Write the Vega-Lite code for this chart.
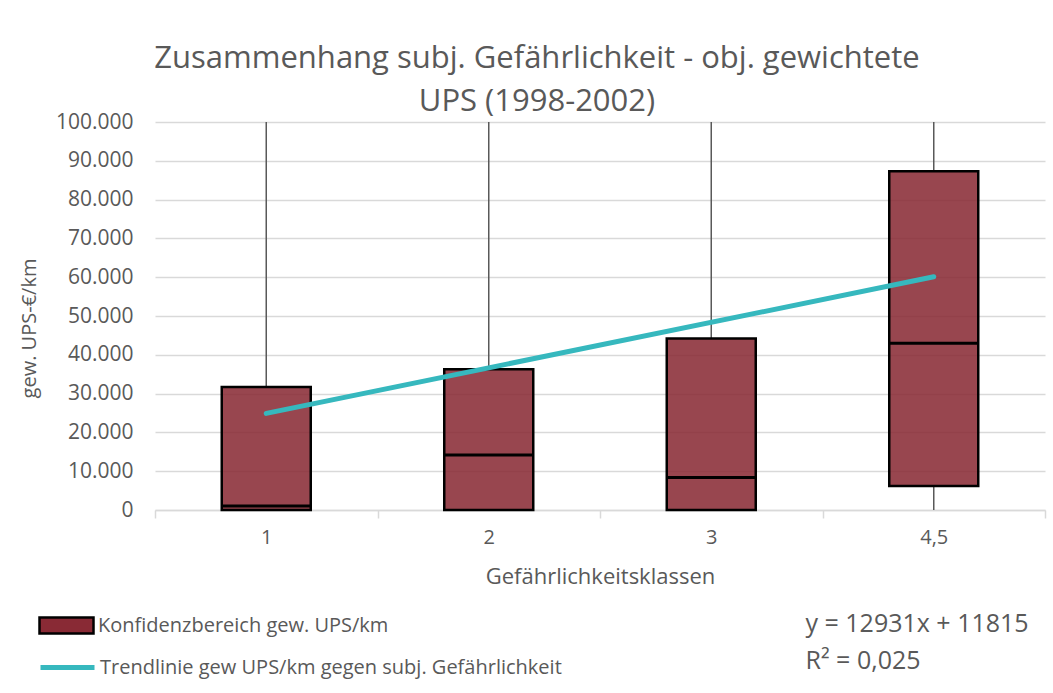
{
  "$schema": "https://vega.github.io/schema/vega-lite/v6.json",
  "width": 890,
  "height": 388,
  "autosize": {"type": "none"},
  "padding": {"left": 155, "top": 122, "right": 8, "bottom": 183},
  "background": "white",
  "title": {
    "text": ["Zusammenhang subj. Gefährlichkeit - obj. gewichtete", "UPS (1998-2002)"],
    "fontSize": 31,
    "fontWeight": "normal",
    "font": "Open Sans",
    "color": "#595959",
    "anchor": "middle",
    "frame": "group",
    "dx": -63,
    "offset": -7,
    "lineHeight": 43
  },
  "datasets": {
    "boxes": [
      {"Klasse": "1", "low": 0, "median": 1000, "high": 31700, "wlow": 0, "whigh": 100000, "serie": "Konfidenzbereich gew. UPS/km"},
      {"Klasse": "2", "low": 0, "median": 14200, "high": 36300, "wlow": 0, "whigh": 100000, "serie": "Konfidenzbereich gew. UPS/km"},
      {"Klasse": "3", "low": 0, "median": 8400, "high": 44200, "wlow": 0, "whigh": 100000, "serie": "Konfidenzbereich gew. UPS/km"},
      {"Klasse": "4,5", "low": 6200, "median": 43000, "high": 87300, "wlow": 0, "whigh": 100000, "serie": "Konfidenzbereich gew. UPS/km"}
    ],
    "trend": [
      {"Klasse": "1", "wert": 24900, "linie": "Trendlinie gew UPS/km gegen subj. Gefährlichkeit"},
      {"Klasse": "4,5", "wert": 60100, "linie": "Trendlinie gew UPS/km gegen subj. Gefährlichkeit"}
    ],
    "gleichung": [
      {"Klasse": "4,5", "y": -29300, "text": ["y = 12931x + 11815", "R² = 0,025"]}
    ]
  },
  "encoding": {
    "x": {
      "field": "Klasse",
      "type": "ordinal",
      "sort": ["1", "2", "3", "4,5"],
      "scale": {"domain": ["1", "2", "3", "4,5"], "paddingInner": 0, "paddingOuter": 0},
      "axis": {
        "title": "Gefährlichkeitsklassen",
        "labelAngle": 0,
        "labelFontSize": 20,
        "titleFontSize": 22,
        "titleFontWeight": "normal",
        "labelPadding": 9,
        "titlePadding": 19,
        "domainColor": "#d9d9d9",
        "domainWidth": 1.5,
        "tickColor": "#d9d9d9",
        "tickWidth": 1.5,
        "tickSize": 8,
        "tickBand": "extent",
        "grid": false
      }
    },
    "y": {
      "type": "quantitative",
      "scale": {"domain": [0, 100000], "nice": false},
      "axis": {
        "title": "gew. UPS-€/km",
        "titleY": 206,
        "values": [0, 10000, 20000, 30000, 40000, 50000, 60000, 70000, 80000, 90000, 100000],
        "tickCount": 11,
        "labelExpr": "replace(format(datum.value, ','), ',', '.')",
        "labelOverlap": false,
        "labelFontSize": 21,
        "titleFontSize": 20,
        "titleFontWeight": "normal",
        "labelPadding": 22,
        "titlePadding": 16,
        "domain": false,
        "ticks": false,
        "gridColor": "#d9d9d9",
        "gridWidth": 1.5
      }
    }
  },
  "layer": [
    {
      "data": {"name": "boxes"},
      "mark": {"type": "rule", "color": "#595959", "strokeWidth": 1.5},
      "encoding": {
        "y": {"field": "high"},
        "y2": {"field": "whigh"}
      }
    },
    {
      "data": {"name": "boxes"},
      "mark": {"type": "rule", "color": "#595959", "strokeWidth": 1.5},
      "encoding": {
        "y": {"field": "wlow"},
        "y2": {"field": "low"}
      }
    },
    {
      "data": {"name": "boxes"},
      "mark": {"type": "bar", "width": {"band": 0.4}, "stroke": "black", "strokeWidth": 2.5, "fillOpacity": 0.87},
      "encoding": {
        "y": {"field": "low"},
        "y2": {"field": "high"},
        "fill": {
          "field": "serie",
          "type": "nominal",
          "scale": {"range": ["#892a35"]},
          "legend": {
            "orient": "none",
            "legendX": -117,
            "legendY": 475,
            "title": null,
            "symbolType": "M-1,-0.3H1V0.3H-1Z",
            "symbolSize": 2916,
            "symbolStrokeColor": "black",
            "symbolStrokeWidth": 2.5,
            "symbolOpacity": 1,
            "labelFontSize": 20,
            "labelOffset": 3,
            "labelColor": "#595959",
            "labelLimit": 600,
            "padding": 0
          }
        }
      }
    },
    {
      "data": {"name": "boxes"},
      "mark": {"type": "tick", "color": "black", "size": 90, "thickness": 3, "orient": "horizontal", "opacity": 1},
      "encoding": {
        "y": {"field": "median"}
      }
    },
    {
      "data": {"name": "trend"},
      "mark": {"type": "line", "strokeWidth": 5, "strokeCap": "round"},
      "encoding": {
        "y": {"field": "wert"},
        "stroke": {
          "field": "linie",
          "type": "nominal",
          "scale": {"range": ["#36b8be"]},
          "legend": {
            "orient": "none",
            "legendX": -117,
            "legendY": 516,
            "title": null,
            "symbolType": "stroke",
            "symbolSize": 2916,
            "symbolStrokeWidth": 5,
            "labelFontSize": 20,
            "labelOffset": 3,
            "labelColor": "#595959",
            "labelLimit": 700,
            "padding": 0
          }
        }
      }
    },
    {
      "data": {"name": "gleichung"},
      "mark": {"type": "text", "align": "left", "baseline": "middle", "fontSize": 25, "color": "#595959", "lineHeight": 37, "dx": -17, "clip": false},
      "encoding": {
        "x": {"field": "Klasse", "type": "ordinal", "bandPosition": 0},
        "y": {"field": "y"},
        "text": {"field": "text"}
      }
    }
  ],
  "config": {
    "font": "Open Sans",
    "view": {"stroke": null},
    "axis": {"labelColor": "#595959", "titleColor": "#595959", "labelFont": "Open Sans", "titleFont": "Open Sans"},
    "legend": {"labelFont": "Open Sans"}
  }
}
